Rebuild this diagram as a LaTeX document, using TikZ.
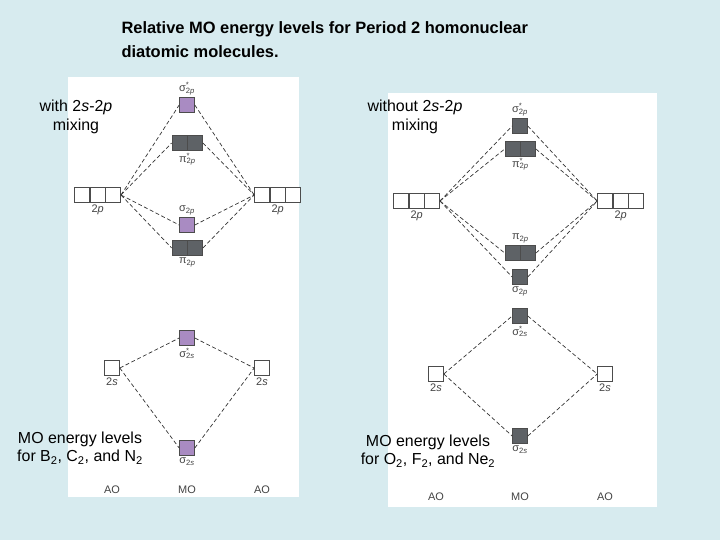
\documentclass[tikz,border=0pt]{standalone}
\usepackage{fontspec}
\setmainfont{Liberation Sans}
\usetikzlibrary{positioning}
\definecolor{bgblue}{HTML}{D7EBEF}
\definecolor{mopurple}{HTML}{A98BC2}
\definecolor{mogray}{HTML}{5E6266}
\definecolor{lblgray}{HTML}{444444}
\newcommand{\orbsub}[3]{#1\rlap{\textsuperscript{#2}}\textsubscript{#3}}
\begin{document}
\begin{tikzpicture}
  [x=1bp,y=-1bp,
   orb/.style={draw=black!70,line width=.6pt,minimum size=15bp,inner sep=0pt,fill=white},
   pmo/.style={orb,fill=mopurple},
   gmo/.style={orb,fill=mogray},
   lbl/.style={font=\fontsize{11}{12}\selectfont,text=lblgray,inner sep=1pt},
   big/.style={font=\fontsize{16}{19}\selectfont,align=center},
   link/.style={dash pattern=on 4pt off 2.5pt,line width=.7pt,black!80}]
  \fill[bgblue] (0,0) rectangle (720,540);
  \fill[white] (68,77) rectangle (299,497);
  \fill[white] (388,93) rectangle (657,507);
  \node[font=\bfseries\fontsize{16.5}{24}\selectfont,align=left,anchor=north west] (title) at (118,18)
    {Relative MO energy levels for Period 2 homonuclear\\diatomic molecules.};
  \node[big] (mixA) at (76,117) {with 2\emph{s}-2\emph{p}\\mixing};
  \node[big] (mixB) at (415,117) {without 2\emph{s}-2\emph{p}\\mixing};
  \node[big] (capA) at (80,448) {MO energy levels\\for B\textsubscript{2}, C\textsubscript{2}, and N\textsubscript{2}};
  \node[big] (capB) at (428,451) {MO energy levels\\for O\textsubscript{2}, F\textsubscript{2}, and Ne\textsubscript{2}};
  % with mixing
  \node[orb] (LpA) at (82,195) {};
  \node[orb,right=0pt of LpA] (LpB) {};
  \node[orb,right=0pt of LpB] (LpC) {};
  \node[orb] (RpA) at (262,195) {};
  \node[orb,right=0pt of RpA] (RpB) {};
  \node[orb,right=0pt of RpB] (RpC) {};
  \node[pmo] (sgpsA) at (187,105) {};
  \node[gmo] (pipsA1) at (179.5,143) {};
  \node[gmo,right=0pt of pipsA1] (pipsA2) {};
  \node[pmo] (sgpA) at (187,225) {};
  \node[gmo] (pipA1) at (179.5,248) {};
  \node[gmo,right=0pt of pipA1] (pipA2) {};
  \node[pmo] (sgssA) at (187,338) {};
  \node[orb] (LsA) at (112,368) {};
  \node[orb] (RsA) at (262,368) {};
  \node[pmo] (sgsA) at (187,448) {};
  \node[lbl,above=1pt of sgpsA] {\orbsub{σ}{*}{2\emph{p}}};
  \node[lbl,below=1pt of pipsA1.south east] {\orbsub{π}{*}{2\emph{p}}};
  \node[lbl,above=1pt of sgpA] {\orbsub{σ}{}{2\emph{p}}};
  \node[lbl,below=1pt of pipA1.south east] {\orbsub{π}{}{2\emph{p}}};
  \node[lbl,below=1pt of sgssA] {\orbsub{σ}{*}{2\emph{s}}};
  \node[lbl,below=1pt of sgsA] {\orbsub{σ}{}{2\emph{s}}};
  \node[lbl,below=1pt of LpB] {2\emph{p}};
  \node[lbl,below=1pt of RpB] {2\emph{p}};
  \node[lbl,below=1pt of LsA] {2\emph{s}};
  \node[lbl,below=1pt of RsA] {2\emph{s}};
  \node[lbl] (aoA1) at (112,490) {AO};
  \node[lbl] (moA) at (187,490) {MO};
  \node[lbl] (aoA2) at (262,490) {AO};
  \foreach \mo/\mt in {sgpsA/sgpsA,pipsA1/pipsA2,sgpA/sgpA,pipA1/pipA2}
    \draw[link] (LpC.east) -- (\mo.west) (\mt.east) -- (RpA.west);
  \draw[link] (LsA.east) -- (sgssA.west) (sgssA.east) -- (RsA.west);
  \draw[link] (LsA.east) -- (sgsA.west) (sgsA.east) -- (RsA.west);
  % without mixing
  \node[orb] (LpD) at (401,201) {};
  \node[orb,right=0pt of LpD] (LpE) {};
  \node[orb,right=0pt of LpE] (LpF) {};
  \node[orb] (RpD) at (605,201) {};
  \node[orb,right=0pt of RpD] (RpE) {};
  \node[orb,right=0pt of RpE] (RpF) {};
  \node[gmo] (sgpsB) at (520,126) {};
  \node[gmo] (pipsB1) at (512.5,149) {};
  \node[gmo,right=0pt of pipsB1] (pipsB2) {};
  \node[gmo] (pipB1) at (512.5,253) {};
  \node[gmo,right=0pt of pipB1] (pipB2) {};
  \node[gmo] (sgpB) at (520,277) {};
  \node[gmo] (sgssB) at (520,316) {};
  \node[orb] (LsB) at (436,374) {};
  \node[orb] (RsB) at (605,374) {};
  \node[gmo] (sgsB) at (520,436) {};
  \node[lbl,above=1pt of sgpsB] {\orbsub{σ}{*}{2\emph{p}}};
  \node[lbl,below=0pt of pipsB1.south east] {\orbsub{π}{*}{2\emph{p}}};
  \node[lbl,above=1pt of pipB1.north east] {\orbsub{π}{}{2\emph{p}}};
  \node[lbl,below=1pt of sgpB] {\orbsub{σ}{}{2\emph{p}}};
  \node[lbl,below=1pt of sgssB] {\orbsub{σ}{*}{2\emph{s}}};
  \node[lbl,below=1pt of sgsB] {\orbsub{σ}{}{2\emph{s}}};
  \node[lbl,below=1pt of LpE] {2\emph{p}};
  \node[lbl,below=1pt of RpE] {2\emph{p}};
  \node[lbl,below=1pt of LsB] {2\emph{s}};
  \node[lbl,below=1pt of RsB] {2\emph{s}};
  \node[lbl] (aoB1) at (436,497) {AO};
  \node[lbl] (moB) at (520,497) {MO};
  \node[lbl] (aoB2) at (605,497) {AO};
  \foreach \mo/\mt in {sgpsB/sgpsB,pipsB1/pipsB2,pipB1/pipB2,sgpB/sgpB}
    \draw[link] (LpF.east) -- (\mo.west) (\mt.east) -- (RpD.west);
  \draw[link] (LsB.east) -- (sgssB.west) (sgssB.east) -- (RsB.west);
  \draw[link] (LsB.east) -- (sgsB.west) (sgsB.east) -- (RsB.west);
\end{tikzpicture}
\end{document}
